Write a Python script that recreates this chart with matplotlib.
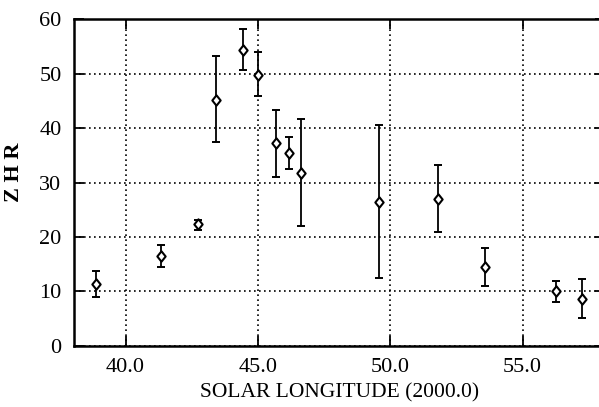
import matplotlib
matplotlib.use("Agg")
import matplotlib.pyplot as plt
from matplotlib.path import Path

# ZHR profile against solar longitude (J2000.0)
sol_long = [38.90, 41.33, 42.73, 43.43, 44.45, 45.00, 45.70, 46.18, 46.63,
            49.58, 51.82, 53.56, 56.25, 57.24]
zhr = [11.4, 16.5, 22.3, 45.2, 54.4, 49.8, 37.2, 35.4, 31.8,
       26.5, 27.0, 14.5, 10.0, 8.6]
zhr_hi = [13.7, 18.6, 23.2, 53.3, 58.1, 54.0, 43.4, 38.3, 41.6,
          40.5, 33.3, 18.0, 12.0, 12.2]
zhr_lo = [8.9, 14.5, 21.2, 37.4, 50.7, 45.8, 31.1, 32.4, 22.1,
          12.5, 20.9, 11.0, 8.0, 5.1]

x_ticks = [40.0, 45.0, 50.0, 55.0]
y_ticks = [0, 10, 20, 30, 40, 50, 60]

plt.rcParams["font.family"] = ["Liberation Serif", "DejaVu Serif"]

# slightly squat diamond, a bit wider than the 'd' marker
diamond = Path([(0, 1), (0.8, 0), (0, -1), (-0.8, 0), (0, 1)],
               [Path.MOVETO, Path.LINETO, Path.LINETO, Path.LINETO, Path.CLOSEPOLY])

fig = plt.figure(figsize=(5.99, 4.07), dpi=100)
ax = fig.add_axes([0.1235, 0.150, 0.886, 0.803])

err = [[z - lo for z, lo in zip(zhr, zhr_lo)],
       [hi - z for z, hi in zip(zhr, zhr_hi)]]
ax.errorbar(sol_long, zhr, yerr=err, fmt="none", ecolor="black",
            elinewidth=1.3, capsize=3.2, capthick=1.4, zorder=3)
ax.plot(sol_long, zhr, linestyle="none", marker=diamond, ms=7.5,
        mfc="white", mec="black", mew=1.5, zorder=4)

ax.set_xlim(38.05, 58.1)
ax.set_ylim(0, 60)
ax.set_xticks(x_ticks)
ax.set_xticklabels([f"{v:.1f}" for v in x_ticks])
ax.set_yticks(y_ticks)
ax.tick_params(direction="in", length=7, width=1.3, labelsize=16,
               top=True, right=True)
ax.tick_params(axis="x", pad=9)
ax.tick_params(axis="y", pad=9)
ax.grid(True, color="black", linestyle=(0, (1, 2)), linewidth=1.2)

for side in ("left", "bottom", "top", "right"):
    ax.spines[side].set_linewidth(1.8)

ax.set_xlabel("SOLAR LONGITUDE (2000.0)", fontsize=15.5, labelpad=4)
ax.set_ylabel("Z H R", fontsize=16, fontweight="bold")
ax.yaxis.set_label_coords(-0.095, 0.53)

fig.savefig("out.png", dpi=100)
